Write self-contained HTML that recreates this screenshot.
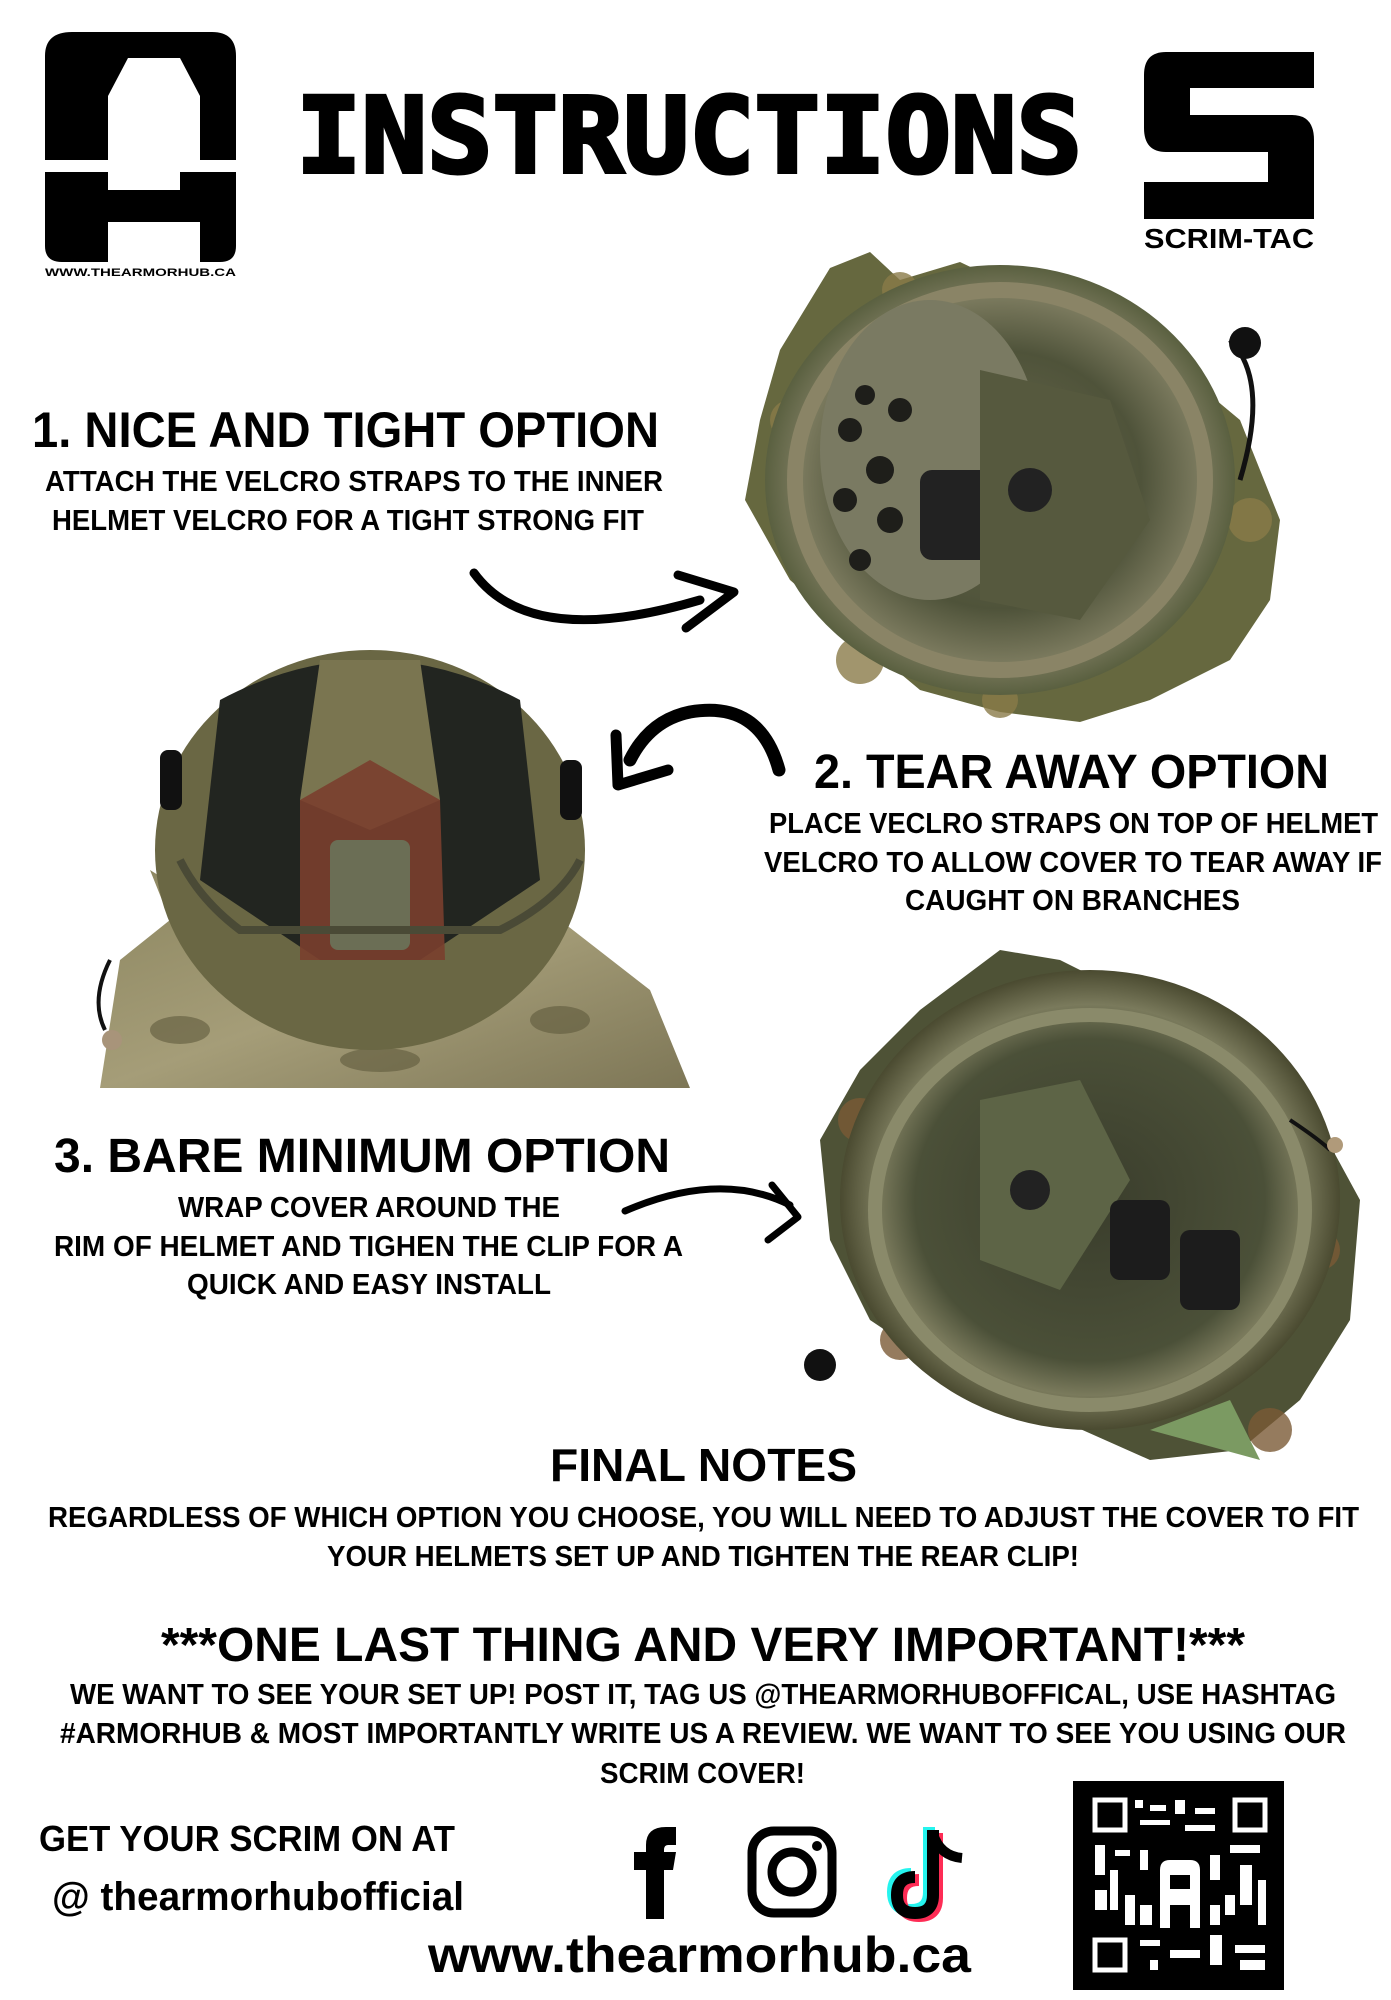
<!DOCTYPE html>
<html><head><meta charset="utf-8"><style>
html,body{margin:0;padding:0;background:#fff;}
svg{display:block;}
text{font-family:"Liberation Sans",sans-serif;font-weight:bold;fill:#000;}
</style></head><body>
<svg width="1391" height="2000" viewBox="0 0 1391 2000" xmlns="http://www.w3.org/2000/svg">
<defs>
<radialGradient id="h1" cx="50%" cy="50%" r="50%"><stop offset="0" stop-color="#6b6a4e"/><stop offset="0.6" stop-color="#4f533a"/><stop offset="0.85" stop-color="#7b7a5e"/><stop offset="1" stop-color="#5a6040"/></radialGradient>
<radialGradient id="h3" cx="50%" cy="50%" r="50%"><stop offset="0" stop-color="#3a3d2c"/><stop offset="0.7" stop-color="#4b5038"/><stop offset="0.85" stop-color="#7a7a5c"/><stop offset="1" stop-color="#4a4a30"/></radialGradient>
<linearGradient id="camo" x1="0" y1="0" x2="1" y2="1"><stop offset="0" stop-color="#8c8660"/><stop offset="0.5" stop-color="#a59d78"/><stop offset="1" stop-color="#7d7656"/></linearGradient>
</defs>

<!-- AH logo -->
<g fill="#000">
<path d="M72 32 H212 Q236 32 236 56 V160 H200 V96 L180 58 H128 L108 96 V160 H45 V56 Q45 32 72 32Z"/>
<path d="M45 172 H108 V190 H180 V172 H236 V246 Q236 262 220 262 H200 V222 H108 V262 H62 Q45 262 45 246Z"/>
</g>
<rect x="108" y="96" width="92" height="56" fill="#fff"/>
<text x="45" y="276" font-size="11" textLength="191" lengthAdjust="spacingAndGlyphs">WWW.THEARMORHUB.CA</text>

<!-- INSTRUCTIONS -->
<text x="296" y="172" font-size="104" textLength="786" lengthAdjust="spacingAndGlyphs" stroke="#000" stroke-width="4" style="font-family:'DejaVu Sans Mono',monospace">INSTRUCTIONS</text>

<!-- S logo -->
<path d="M1144 52 H1314 V88 H1190 V115 H1292 Q1314 115 1314 140 V219 H1144 V182 H1268 V152 H1166 Q1144 152 1144 128 V75 Q1144 52 1166 52Z" fill="#000"/>
<text x="1144" y="248" font-size="28" textLength="170" lengthAdjust="spacingAndGlyphs">SCRIM-TAC</text>

<!-- Helmet 1 -->
<g>
<path d="M830 268 L870 252 L900 280 L960 262 L1040 300 L1110 310 L1180 370 L1240 420 L1280 520 L1270 600 L1230 660 L1150 700 L1080 722 L1000 712 L920 690 L860 640 L790 580 L745 500 L760 420 L780 350Z" fill="#66683f"/>
<g fill="#8a7a48" opacity="0.8"><circle cx="790" cy="420" r="20"/><circle cx="860" cy="660" r="24"/><circle cx="1250" cy="520" r="22"/><circle cx="1000" cy="700" r="18"/><circle cx="900" cy="290" r="18"/></g>
<ellipse cx="1000" cy="480" rx="235" ry="215" fill="url(#h1)"/>
<ellipse cx="1000" cy="480" rx="205" ry="190" fill="none" stroke="#8a8466" stroke-width="16"/>
<ellipse cx="930" cy="450" rx="110" ry="150" fill="#7a7a62"/>
<g fill="#1e1e1a"><circle cx="850" cy="430" r="12"/><circle cx="880" cy="470" r="14"/><circle cx="845" cy="500" r="12"/><circle cx="890" cy="520" r="13"/><circle cx="860" cy="560" r="11"/><circle cx="900" cy="410" r="12"/><circle cx="865" cy="395" r="10"/></g>
<rect x="920" y="470" width="75" height="90" rx="12" fill="#222"/>
<path d="M980 370 L1110 400 L1150 520 L1080 620 L980 600Z" fill="#56593e"/>
<circle cx="1030" cy="490" r="22" fill="#222"/>
<path d="M1230 340 Q1270 380 1240 480" stroke="#111" stroke-width="5" fill="none"/>
<circle cx="1245" cy="343" r="16" fill="#111"/>
</g>

<!-- Arrow 1 -->
<path d="M474 573 Q530 650 700 600" stroke="#000" stroke-width="9" fill="none" stroke-linecap="round"/>
<path d="M678 575 L734 592 L686 628" stroke="#000" stroke-width="9" fill="none" stroke-linecap="round" stroke-linejoin="round"/>

<!-- Text 1 -->
<text x="32" y="447" font-size="50" textLength="627" lengthAdjust="spacingAndGlyphs">1. NICE AND TIGHT OPTION</text>
<text x="45" y="491" font-size="29" textLength="618" lengthAdjust="spacingAndGlyphs">ATTACH THE VELCRO STRAPS TO THE INNER</text>
<text x="52" y="530" font-size="29" textLength="592" lengthAdjust="spacingAndGlyphs">HELMET VELCRO FOR A TIGHT STRONG FIT</text>

<!-- Helmet 2 -->
<g>
<path d="M100 1088 L120 960 L170 920 L150 870 L230 920 L560 920 L650 990 L690 1088Z" fill="url(#camo)"/>
<g fill="#5f5a3c" opacity="0.6"><ellipse cx="180" cy="1030" rx="30" ry="14"/><ellipse cx="380" cy="1060" rx="40" ry="12"/><ellipse cx="560" cy="1020" rx="30" ry="14"/><ellipse cx="280" cy="990" rx="25" ry="10"/></g>
<ellipse cx="370" cy="850" rx="215" ry="200" fill="#6a6744"/>
<path d="M220 700 Q370 620 520 700 L540 880 L420 960 L320 960 L200 880Z" fill="#222520"/>
<path d="M320 660 L420 660 L440 800 L370 830 L300 800Z" fill="#7a7550"/>
<path d="M300 800 L370 760 L440 800 L445 960 L300 960Z" fill="#7a3f2e" opacity="0.9"/>
<rect x="330" y="840" width="80" height="110" rx="8" fill="#6b6e55"/>
<rect x="160" y="750" width="22" height="60" rx="8" fill="#111"/>
<rect x="560" y="760" width="22" height="60" rx="8" fill="#111"/>
<path d="M180 860 Q200 900 240 930 L500 930 Q560 900 580 860" fill="none" stroke="#4a4a36" stroke-width="8"/>
<path d="M110 960 Q90 1000 105 1030" stroke="#111" stroke-width="4" fill="none"/>
<circle cx="112" cy="1040" r="10" fill="#a8947a"/>
</g>

<!-- Arrow 2 -->
<path d="M779 770 Q760 700 690 712 Q650 720 630 760" stroke="#000" stroke-width="13" fill="none" stroke-linecap="round"/>
<path d="M616 735 L618 785 L668 770" stroke="#000" stroke-width="11" fill="none" stroke-linecap="round" stroke-linejoin="round"/>

<!-- Text 2 -->
<text x="814" y="788" font-size="48" textLength="515" lengthAdjust="spacingAndGlyphs">2. TEAR AWAY OPTION</text>
<text x="769" y="833" font-size="29" textLength="609" lengthAdjust="spacingAndGlyphs">PLACE VECLRO STRAPS ON TOP OF HELMET</text>
<text x="764" y="872" font-size="29" textLength="618" lengthAdjust="spacingAndGlyphs">VELCRO TO ALLOW COVER TO TEAR AWAY IF</text>
<text x="905" y="910" font-size="29" textLength="335" lengthAdjust="spacingAndGlyphs">CAUGHT ON BRANCHES</text>

<!-- Helmet 3 -->
<g>
<path d="M1000 950 L1060 960 L1120 990 L1200 1040 L1300 1090 L1360 1200 L1350 1320 L1300 1400 L1240 1450 L1150 1460 L1060 1420 L960 1380 L870 1320 L830 1240 L820 1140 L860 1070 L920 1010Z" fill="#4e5236"/>
<g fill="#7a5a36" opacity="0.8"><circle cx="860" cy="1120" r="22"/><circle cx="900" cy="1340" r="20"/><circle cx="1320" cy="1250" r="20"/><circle cx="1270" cy="1430" r="22"/></g>
<ellipse cx="1090" cy="1200" rx="250" ry="230" fill="url(#h3)"/>
<ellipse cx="1090" cy="1210" rx="215" ry="195" fill="none" stroke="#8a8a6a" stroke-width="14"/>
<path d="M980 1100 L1080 1080 L1130 1180 L1060 1290 L980 1260Z" fill="#5d6446"/>
<rect x="1110" y="1200" width="60" height="80" rx="10" fill="#1c1c1c"/>
<rect x="1180" y="1230" width="60" height="80" rx="10" fill="#1c1c1c"/>
<circle cx="1030" cy="1190" r="20" fill="#222"/>
<path d="M1290 1120 Q1320 1140 1330 1150" stroke="#111" stroke-width="4" fill="none"/>
<circle cx="1335" cy="1145" r="8" fill="#b09a7a"/>
<circle cx="820" cy="1365" r="16" fill="#111"/>
<path d="M1150 1430 L1260 1460 L1230 1400Z" fill="#7b9a62"/>
</g>

<!-- Arrow 3 -->
<path d="M625 1211 Q720 1170 790 1205" stroke="#000" stroke-width="7" fill="none" stroke-linecap="round"/>
<path d="M772 1185 L798 1217 L768 1240" stroke="#000" stroke-width="7" fill="none" stroke-linecap="round" stroke-linejoin="round"/>

<!-- Text 3 -->
<text x="54" y="1172" font-size="48" textLength="616" lengthAdjust="spacingAndGlyphs">3. BARE MINIMUM OPTION</text>
<text x="178" y="1217" font-size="29" textLength="382" lengthAdjust="spacingAndGlyphs">WRAP COVER AROUND THE</text>
<text x="54" y="1256" font-size="29" textLength="629" lengthAdjust="spacingAndGlyphs">RIM OF HELMET AND TIGHEN THE CLIP FOR A</text>
<text x="187" y="1294" font-size="29" textLength="364" lengthAdjust="spacingAndGlyphs">QUICK AND EASY INSTALL</text>

<!-- Final notes -->
<text x="550" y="1481" font-size="46" textLength="307" lengthAdjust="spacingAndGlyphs">FINAL NOTES</text>
<text x="48" y="1527" font-size="29" textLength="1311" lengthAdjust="spacingAndGlyphs">REGARDLESS OF WHICH OPTION YOU CHOOSE, YOU WILL NEED TO ADJUST THE COVER TO FIT</text>
<text x="327" y="1566" font-size="29" textLength="752" lengthAdjust="spacingAndGlyphs">YOUR HELMETS SET UP AND TIGHTEN THE REAR CLIP!</text>

<text x="161" y="1661" font-size="48" textLength="1084" lengthAdjust="spacingAndGlyphs">***ONE LAST THING AND VERY IMPORTANT!***</text>
<text x="70" y="1704" font-size="29" textLength="1266" lengthAdjust="spacingAndGlyphs">WE WANT TO SEE YOUR SET UP! POST IT, TAG US @THEARMORHUBOFFICAL, USE HASHTAG</text>
<text x="60" y="1743" font-size="29" textLength="1286" lengthAdjust="spacingAndGlyphs">#ARMORHUB &amp; MOST IMPORTANTLY WRITE US A REVIEW. WE WANT TO SEE YOU USING OUR</text>
<text x="600" y="1783" font-size="29" textLength="205" lengthAdjust="spacingAndGlyphs">SCRIM COVER!</text>

<text x="39" y="1851" font-size="36" textLength="416" lengthAdjust="spacingAndGlyphs">GET YOUR SCRIM ON AT</text>
<text x="52" y="1910" font-size="40" textLength="412" lengthAdjust="spacingAndGlyphs">@ thearmorhubofficial</text>
<text x="428" y="1972" font-size="50" textLength="543" lengthAdjust="spacingAndGlyphs">www.thearmorhub.ca</text>

<!-- facebook f -->
<path d="M646 1919 V1870 H634 V1852 H646 V1845 Q646 1827 666 1827 H676 V1845 H668 Q664 1845 664 1850 V1852 H676 L673 1870 H664 V1919Z" fill="#000"/>
<!-- instagram -->
<rect x="752" y="1831" width="80" height="82" rx="22" fill="none" stroke="#000" stroke-width="9"/>
<circle cx="792" cy="1872" r="20" fill="none" stroke="#000" stroke-width="9"/>
<circle cx="817" cy="1846" r="5" fill="#000"/>
<!-- tiktok -->
<g fill="none" stroke-width="12" stroke-linecap="butt">
<path d="M933 1830 V1895 Q933 1913 915 1913 Q897 1913 897 1895 Q897 1877 915 1877" stroke="#25f4ee" transform="translate(-4,-3)"/>
<path d="M933 1830 V1895 Q933 1913 915 1913 Q897 1913 897 1895 Q897 1877 915 1877" stroke="#fe2c55" transform="translate(4,3)"/>
<path d="M933 1830 V1895 Q933 1913 915 1913 Q897 1913 897 1895 Q897 1877 915 1877" stroke="#000"/>
<path d="M933 1834 Q940 1856 962 1858" stroke="#000" stroke-width="10"/>
</g>

<!-- QR -->
<rect x="1073" y="1781" width="211" height="209" fill="#000"/>
<g fill="none" stroke="#fff" stroke-width="5">
<rect x="1095" y="1800" width="30" height="30"/><rect x="1235" y="1800" width="30" height="30"/><rect x="1095" y="1940" width="30" height="30"/>
</g>
<g fill="#fff">
<rect x="1135" y="1800" width="8" height="8"/><rect x="1150" y="1805" width="16" height="6"/><rect x="1175" y="1800" width="10" height="14"/><rect x="1195" y="1808" width="20" height="6"/><rect x="1140" y="1820" width="30" height="5"/><rect x="1185" y="1825" width="30" height="6"/>
<rect x="1095" y="1845" width="10" height="30"/><rect x="1115" y="1850" width="15" height="6"/><rect x="1110" y="1870" width="8" height="40"/><rect x="1095" y="1890" width="12" height="20"/><rect x="1125" y="1895" width="10" height="30"/>
<rect x="1230" y="1845" width="30" height="8"/><rect x="1240" y="1865" width="12" height="40"/><rect x="1225" y="1895" width="10" height="20"/><rect x="1258" y="1880" width="8" height="45"/>
<rect x="1140" y="1940" width="20" height="6"/><rect x="1170" y="1950" width="30" height="8"/><rect x="1210" y="1935" width="12" height="30"/><rect x="1235" y="1945" width="30" height="8"/><rect x="1150" y="1960" width="8" height="10"/><rect x="1240" y="1960" width="25" height="10"/>
<rect x="1140" y="1850" width="8" height="20"/><rect x="1210" y="1855" width="10" height="25"/><rect x="1140" y="1905" width="12" height="20"/><rect x="1210" y="1905" width="10" height="20"/>
</g>
<path d="M1160 1928 V1870 Q1160 1860 1170 1860 H1190 Q1200 1860 1200 1870 V1928 H1190 V1905 H1170 V1928Z" fill="#fff"/>
<rect x="1170" y="1875" width="20" height="14" fill="#000"/>
</svg>
</body></html>
